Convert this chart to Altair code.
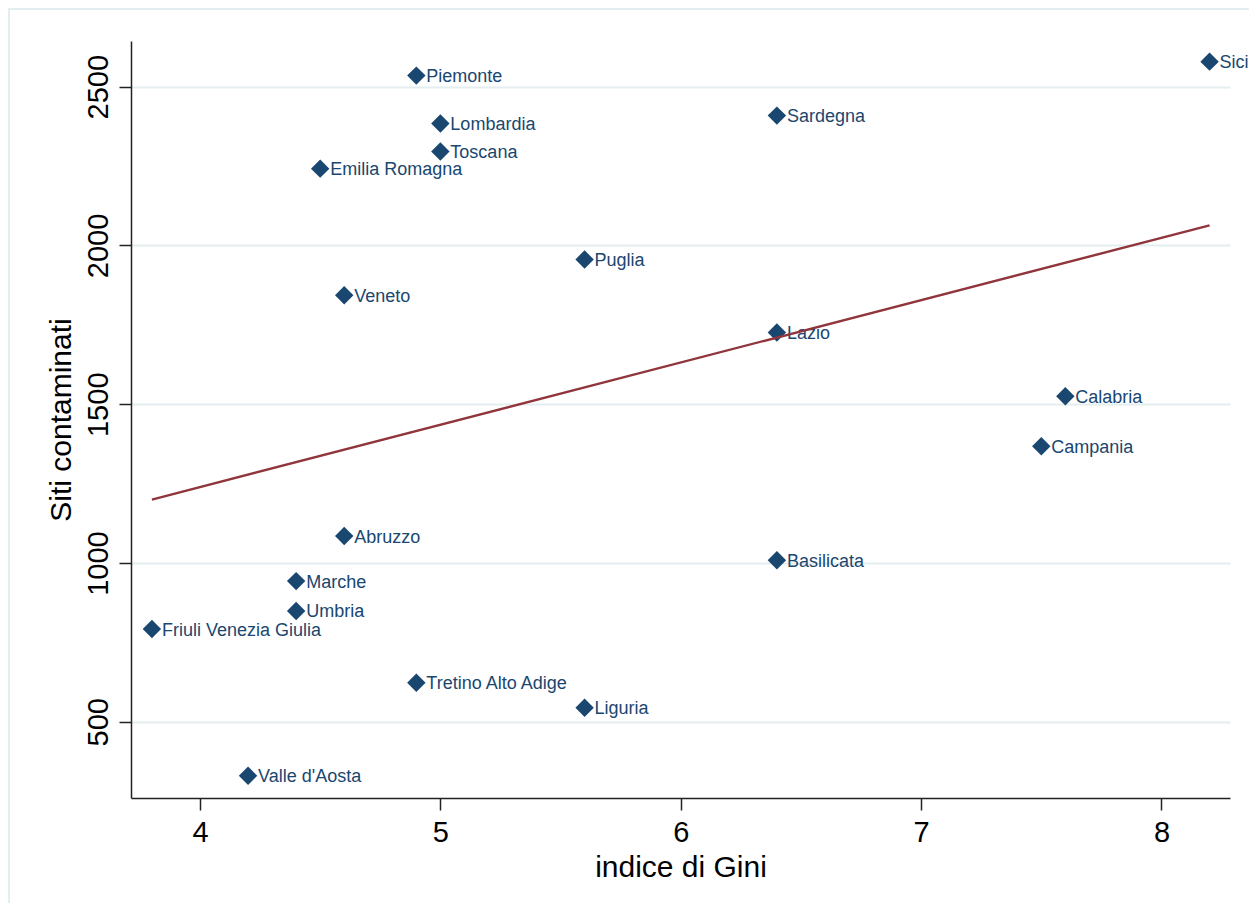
import altair as alt
import pandas as pd

regioni = ["Piemonte", "Lombardia", "Toscana", "Emilia Romagna", "Sardegna", "Sicilia",
           "Puglia", "Veneto", "Lazio", "Calabria", "Campania", "Abruzzo", "Basilicata",
           "Marche", "Umbria", "Friuli Venezia Giulia", "Tretino Alto Adige", "Liguria",
           "Valle d'Aosta"]
gini = [4.9, 5.0, 5.0, 4.5, 6.4, 8.2, 5.6, 4.6, 6.4, 7.6, 7.5, 4.6, 6.4, 4.4, 4.4, 3.8, 4.9, 5.6, 4.2]
siti = [2535, 2384, 2296, 2242, 2409, 2579, 1956, 1843, 1726, 1525, 1368, 1085, 1009,
        943, 849, 792, 623, 544, 330]
x_ticks = [4, 5, 6, 7, 8]
y_ticks = [500, 1000, 1500, 2000, 2500]

df = pd.DataFrame({"regione": regioni, "gini": gini, "siti": siti})

NAVY = "#1a476f"
MAROON = "#90353b"
GRID = "#e4edf0"
AXC = "#222222"
FONT = "Liberation Sans"
W, H = 1099, 757

xenc = alt.X("gini:Q",
             scale=alt.Scale(domain=[3.713, 8.285], nice=False, zero=False),
             axis=alt.Axis(values=x_ticks, format="d", title="indice di Gini", grid=False,
                           labelFontSize=29, labelFont=FONT, labelColor="#000000",
                           labelBaseline="alphabetic", labelPadding=31, labelAlign="center",
                           tickSize=12, tickWidth=1.5, tickColor=AXC,
                           domainColor=AXC, domainWidth=1.5,
                           titleFontSize=30, titleFont=FONT, titleFontWeight="normal",
                           titleColor="#000000", titleBaseline="alphabetic",
                           titleY=78, titleX=W / 2, titleAlign="center"))
yenc = alt.Y("siti:Q",
             scale=alt.Scale(domain=[260, 2644], nice=False, zero=False),
             axis=alt.Axis(values=y_ticks, format="d", title="Siti contaminati", grid=True,
                           gridColor=GRID, gridWidth=2,
                           labelFontSize=29, labelFont=FONT, labelColor="#000000",
                           labelAngle=-90, labelAlign="center", labelBaseline="alphabetic",
                           labelPadding=12,
                           tickSize=12, tickWidth=1.5, tickColor=AXC,
                           domainColor=AXC, domainWidth=1.5,
                           titleFontSize=30, titleFont=FONT, titleFontWeight="normal",
                           titleColor="#000000", titleAngle=-90, titleAlign="center",
                           titleBaseline="alphabetic", titleX=-61, titleY=H / 2))

frame = alt.Chart(pd.DataFrame({"k": [0]})).mark_rect(
    filled=False, stroke=GRID, strokeWidth=2
).encode(x=alt.value(-122), x2=alt.value(W + 300), y=alt.value(-32), y2=alt.value(H + 300))

points = alt.Chart(df).mark_point(shape="diamond", filled=True, size=340, color=NAVY,
                                  opacity=1).encode(x=xenc, y=yenc)

labels = alt.Chart(df).mark_text(align="left", baseline="alphabetic", dx=10, dy=6.5,
                                 fontSize=18, font=FONT, color=NAVY).encode(
    x="gini:Q", y="siti:Q", text="regione:N")

fit = alt.Chart(df).transform_regression("gini", "siti").mark_line(
    color=MAROON, strokeWidth=2.4).encode(x="gini:Q", y="siti:Q")

chart = alt.layer(frame, points, labels, fit).properties(
    width=W, height=H,
    padding={"left": 123, "top": 33, "right": 19, "bottom": 105},
    autosize=alt.AutoSizeParams(type="none"),
    background="white",
).configure_view(stroke=None)

chart.save("out.html", embed_options={"renderer": "svg", "actions": False})
